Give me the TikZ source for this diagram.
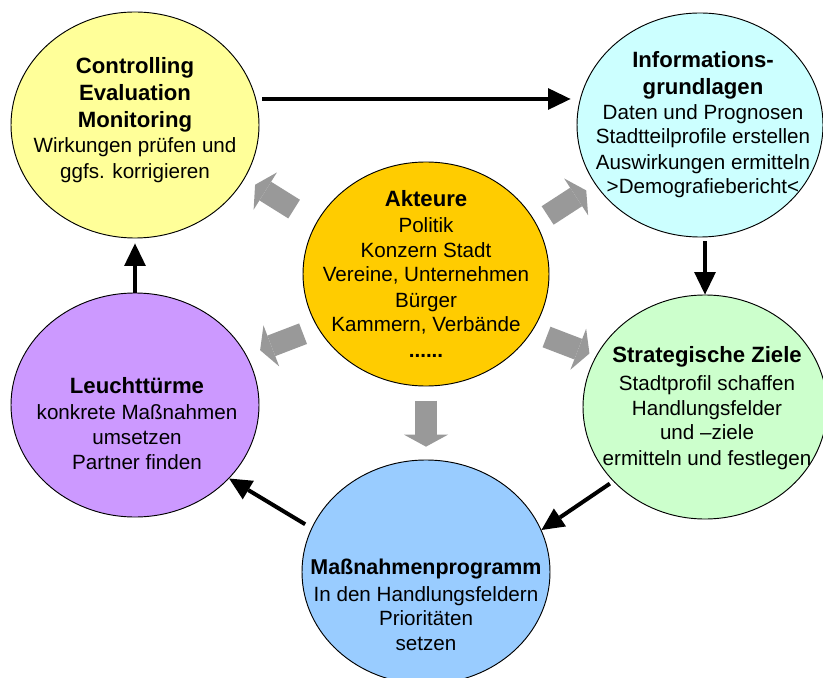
\documentclass[tikz,border=0pt]{standalone}
\usepackage{fontspec}
\setmainfont{Liberation Sans}
\usepackage{xcolor}
\usepackage{tikz}
\usetikzlibrary{shapes,arrows.meta,calc}

\definecolor{ctrlyellow}{HTML}{FFFF99}
\definecolor{infocyan}{HTML}{CCFFFF}
\definecolor{aktorange}{HTML}{FFCC00}
\definecolor{leuchtlila}{HTML}{CC99FF}
\definecolor{stratgreen}{HTML}{CCFFCC}
\definecolor{massblue}{HTML}{99CCFF}
\definecolor{pushgray}{HTML}{999999}

\newcommand{\kopf}[1]{{\fontsize{18.9pt}{21.6pt}\selectfont\bfseries #1}}

\begin{document}
\begin{tikzpicture}[
			blob/.style={ellipse, draw=black, line width=0.8pt, inner sep=0pt, minimum width=7.4cm, minimum height=6.72cm},
			txt/.style={align=center, font=\fontsize{17.6pt}{21.6pt}\selectfont},
			flow/.style={line width=0.12cm, -{Triangle[width=0.65cm,length=0.67cm,line width=0pt]}},
			push/.style={color=pushgray, line width=0.66cm, -{Triangle[width=1.32cm,length=0.36cm,line width=0pt]}}
			]

				\useasboundingbox (0,0) rectangle (24.69,20.31);

				\node[blob, fill=ctrlyellow, minimum width=7.44cm, minimum height=6.78cm] (ctrl) at (4.05,16.56) {};
				\node[blob, fill=infocyan, minimum width=7.38cm] (info) at (21.0,16.56) {};
				\node[blob, fill=aktorange, minimum width=7.38cm] (akt) at (12.78,12.09) {};
				\node[blob, fill=leuchtlila, minimum width=7.44cm] (leucht) at (4.05,8.16) {};
				\node[blob, fill=stratgreen, minimum width=7.32cm] (strat) at (21.15,8.10) {};
				\node[blob, fill=massblue, minimum width=7.44cm] (mass) at (12.78,3.15) {};

				\node[txt] (ctrltext) at (4.05,16.71) {\kopf{Controlling}\\[1.5pt]\kopf{Evaluation}\\[1.5pt]\kopf{Monitoring}\\Wirkungen prüfen und\\ggfs. korrigieren};
				\node[txt] (infotext) at (21.09,16.57) {\kopf{Informations-}\\[1.5pt]\kopf{grundlagen}\\[-0.5pt]Daten und Prognosen\\[-0.5pt]Stadtteilprofile erstellen\\Auswirkungen ermitteln\\[-0.5pt]>Demografiebericht<};
				\node[txt] (akttext) at (akt) {\kopf{Akteure}\\[0.5pt]Politik\\[-0.5pt]Konzern Stadt\\[-0.5pt]Vereine, Unternehmen\\Bürger\\[-0.5pt]Kammern, Verbände\\[0.5pt]\textbf{......}};
				\node[txt] (leuchttext) at (4.11,7.60) {\kopf{Leuchttürme}\\[0.5pt]konkrete Maßnahmen\\umsetzen\\[-0.5pt]Partner finden};
				\node[txt] (strattext) at (21.21,8.07) {\kopf{Strategische Ziele}\\[2pt]Stadtprofil schaffen\\[-0.5pt]Handlungsfelder\\[-0.5pt]und –ziele\\ermitteln und festlegen};
				\node[txt] (masstext) at (12.78,2.17) {{\fontsize{18.3pt}{21.6pt}\selectfont\bfseries Maßnahmenprogramm}\\[1.5pt]In den Handlungsfeldern\\[-1pt]Prioritäten\\setzen};

				\draw[flow] ($(ctrl.east)+(0.09,0.78)$) -- ($(info.west)+(-0.18,0.78)$);
				\draw[flow] ($(info.south)+(0.15,-0.12)$) -- ($(strat.north)$);
				\draw[flow, shorten <=0.12cm] (strat.219) -- (mass.20);
				\draw[flow, shorten <=0.22cm] (mass.159) -- (leucht.322);
				\draw[flow, shorten >=0.15cm] (leucht) -- (ctrl);

				\draw[push] ($(akt)+(153.8:4.41)$) -- ++(148:1.38);
				\draw[push] ($(akt)+(25.7:4.05)$) -- ++(33:1.38);
				\draw[push] ($(akt)+(205.9:4.10)$) -- ++(201:1.38);
				\draw[push] ($(akt)+(332.4:4.08)$) -- ++(339:1.38);
				\draw[push] ($(akt)+(270:3.80)$) -- ++(270:1.38);

			\end{tikzpicture}
\end{document}
